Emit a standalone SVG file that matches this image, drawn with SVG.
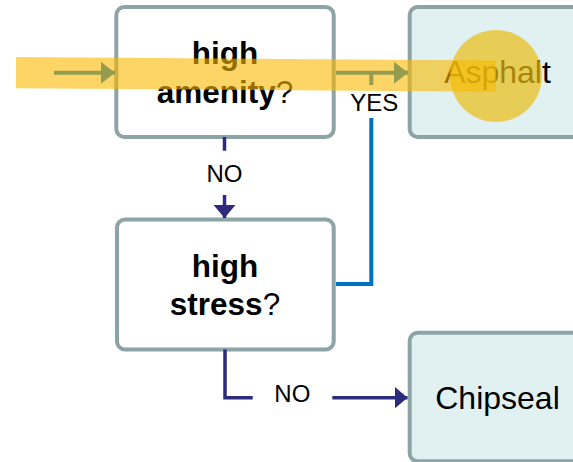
<svg xmlns="http://www.w3.org/2000/svg" width="573" height="462" viewBox="0 0 573 462">
<style>
.box{stroke:#8DA4A6;stroke-width:4}
.q{fill:#FFFFFF}
.r{fill:#E1F1F2}
.t{font-family:"Liberation Sans",Arial,sans-serif;text-anchor:middle;fill:#000}
.qt{font-size:31.5px}
.rt{font-size:32px}
.b{font-weight:bold}
.lbl{font-family:"Liberation Sans",Arial,sans-serif;font-size:24px;text-anchor:middle;fill:#000}
.blue{stroke:#0070C0;stroke-width:4;fill:none}
.navy{stroke:#2D2B7B;stroke-width:3.5;fill:none}
</style>
<defs>
<marker id="ahBlue" markerUnits="userSpaceOnUse" markerWidth="14" markerHeight="22" refX="14" refY="11" orient="auto">
<path d="M0,0 L14,11 L0,22 Z" fill="#0070C0"/>
</marker>
<marker id="ahNavy" markerUnits="userSpaceOnUse" markerWidth="13" markerHeight="22" refX="13" refY="11" orient="auto">
<path d="M0,0 L13,11 L0,22 Z" fill="#2D2B7B"/>
</marker>
</defs>
<rect width="573" height="462" fill="#FFFFFF"/>
<g id="node-amenity">
<rect class="box q" x="116.3" y="7" width="217.4" height="130" rx="8"/>
<text class="t qt" x="225" y="64.3"><tspan class="b">high</tspan></text>
<text class="t qt" x="225" y="103.3"><tspan class="b">amenity</tspan>?</text>
</g>
<g id="node-asphalt">
<rect class="box r" x="409.7" y="7" width="175.6" height="130" rx="8"/>
<text class="t rt" x="497.5" y="82.7">Asphalt</text>
</g>
<g id="node-stress">
<rect class="box q" x="117" y="219.5" width="216.7" height="130" rx="8"/>
<text class="t qt" x="225" y="276.7"><tspan class="b">high</tspan></text>
<text class="t qt" x="225" y="315"><tspan class="b">stress</tspan>?</text>
</g>
<g id="node-chipseal">
<rect class="box r" x="409.7" y="332.8" width="175.6" height="128.5" rx="8"/>
<text class="t rt" x="497.5" y="409.3">Chipseal</text>
</g>
<g id="connectors">
<line class="blue" x1="54" y1="72.8" x2="115" y2="72.8" marker-end="url(#ahBlue)"/>
<line class="blue" x1="336" y1="72.8" x2="408" y2="72.8" marker-end="url(#ahBlue)"/>
<line class="blue" x1="371.3" y1="72.8" x2="371.3" y2="85"/>
<path class="blue" d="M336,284 H371.3 V118"/>
<line class="navy" x1="224.5" y1="137" x2="224.5" y2="150.7"/>
<line class="navy" x1="224.5" y1="195" x2="224.5" y2="218" marker-end="url(#ahNavy)"/>
<path class="navy" d="M225,349.5 V397.7 H252.7"/>
<line class="navy" x1="332.3" y1="397.7" x2="407.5" y2="397.7" marker-end="url(#ahNavy)"/>
</g>
<g id="labels">
<text class="lbl" x="374.3" y="111">YES</text>
<text class="lbl" x="224.5" y="182.3">NO</text>
<text class="lbl" x="292.3" y="402.3">NO</text>
</g>
<g id="highlight">
<circle cx="496" cy="76" r="46" fill="#EABC13" opacity="0.7"/>
<polygon points="16,57 496,60.6 496,91.8 16,88.3" fill="#FAB900" opacity="0.6"/>
</g>
</svg>
